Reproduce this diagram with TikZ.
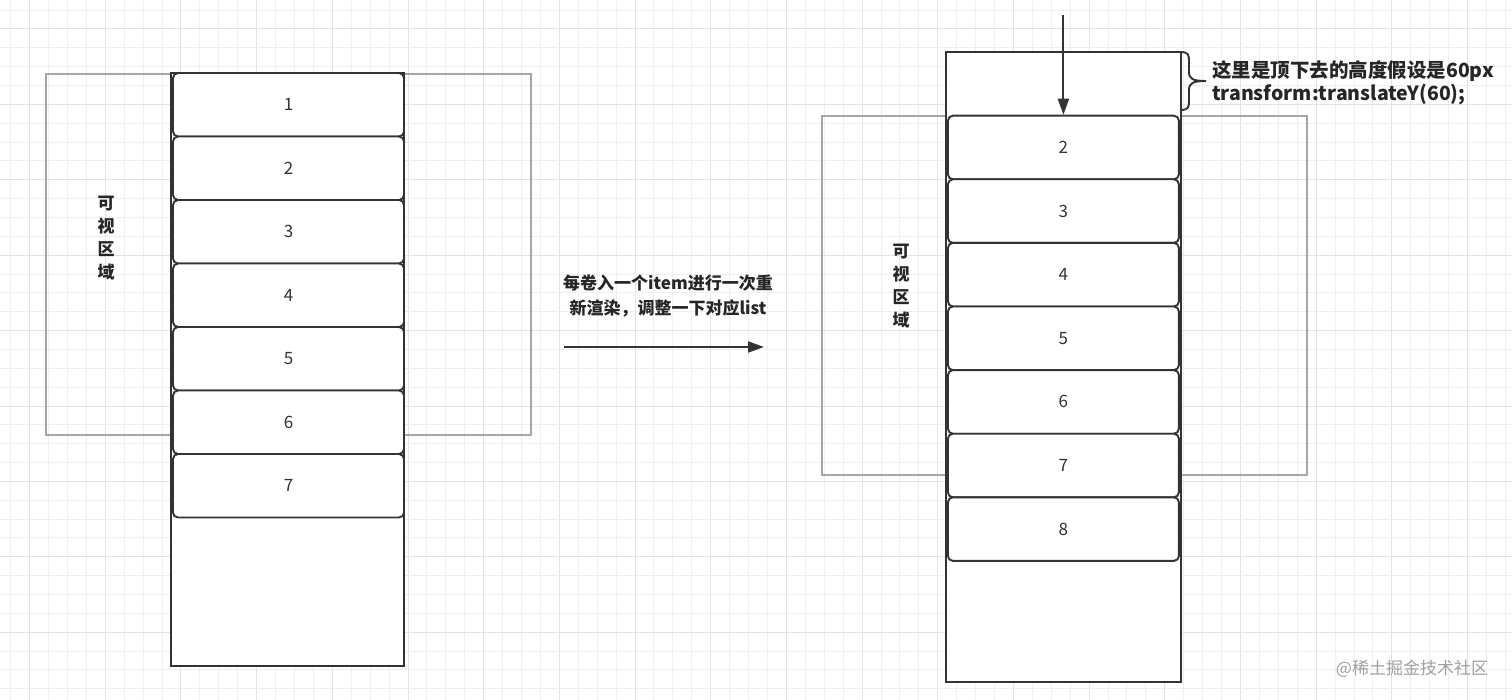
\documentclass[tikz,border=0pt]{standalone}
\usepackage{fontspec}
\setmainfont{Noto Sans CJK SC}
\usetikzlibrary{arrows.meta}
\definecolor{gridfine}{HTML}{EEEEEE}
\definecolor{griddark}{HTML}{E3E3E3}
\definecolor{boxline}{HTML}{333333}
\definecolor{viewline}{HTML}{A6A6A6}
\definecolor{marktext}{HTML}{A0A0A0}
\tikzset{
  finegrid/.style={draw=gridfine, line width=1pt},
  darkgrid/.style={draw=griddark, line width=1pt},
  viewbox/.style={draw=viewline, line width=1.6pt},
  listbox/.style={draw=boxline, line width=1.9pt, fill=white, inner sep=0pt},
  itembox/.style={draw=boxline, line width=1.9pt, fill=white, rounded corners=5pt,
     minimum width=231pt, minimum height=63.5pt, inner sep=0pt,
     font=\fontsize{17}{20}\selectfont, text=boxline},
  ritembox/.style={itembox, minimum height=63.6pt},
  vlabel/.style={font=\bfseries\fontsize{17}{23}\selectfont, align=center, text=black!85, inner sep=0pt},
  note/.style={font=\bfseries\fontsize{17}{25}\selectfont, align=center, text=black!85, inner sep=0pt},
  toptext/.style={font=\bfseries\fontsize{19.5}{24}\selectfont, text=black!85, inner sep=0pt, anchor=west},
  arr/.style={draw=boxline, line width=1.9pt, -{Triangle[length=16pt,width=11pt]}},
}
\begin{document}
\begin{tikzpicture}[x=1pt,y=-1pt]
\useasboundingbox (0,0) rectangle (1512,700);
\fill[white] (0,0) rectangle (1512,700);
% grid
\foreach \i in {0,...,79}{
  \pgfmathsetmacro{\gx}{10.68+18.92*\i}
  \pgfmathtruncatemacro{\m}{mod(\i,4)}
  \ifnum\m=1 \draw[darkgrid] (\gx,0) -- (\gx,700); \else \draw[finegrid] (\gx,0) -- (\gx,700); \fi
}
\foreach \i in {0,...,37}{
  \pgfmathsetmacro{\gy}{10.15+18.85*\i}
  \pgfmathtruncatemacro{\m}{mod(\i,4)}
  \ifnum\m=1 \draw[darkgrid] (0,\gy) -- (1512,\gy); \else \draw[finegrid] (0,\gy) -- (1512,\gy); \fi
}
% visible regions
\node[viewbox, minimum width=485pt, minimum height=361pt, inner sep=0pt] (LV) at (288.5,254.5) {};
\node[viewbox, minimum width=485pt, minimum height=359pt, inner sep=0pt] (RV) at (1064.5,295.5) {};
% containers
\node[listbox, minimum width=233pt, minimum height=593pt] (LC) at (287.5,369.5) {};
\node[listbox, minimum width=235.5pt, minimum height=630pt] (RC) at (1063.5,367.3) {};
% left items
\foreach \n [count=\k from 0] in {1,...,7}{
  \node[itembox] (L\n) at (288.5,{104.75+63.5*\k}) {\n};
}
% right items
\foreach \n [count=\k from 0] in {2,...,8}{
  \node[ritembox] (R\n) at (1063.4,{147.5+63.6*\k}) {\n};
}
% labels
\node[vlabel] (LVL) at (106,238.5) {可\\视\\区\\域};
\node[vlabel] (RVL) at (901,286.5) {可\\视\\区\\域};
% middle arrow
\node[note] (mid) at (668,296) {每卷入一个item进行一次重\\新渲染，调整一下对应list};
\coordinate (as) at (564,347);
\coordinate (ae) at (764,347);
\draw[arr] (as) -- (ae);
% down arrow
\coordinate (ds) at (1063.4,15);
\draw[arr] (ds) -- (R2.north);
% brace
\draw[draw=boxline, line width=1.9pt] (1180,52) .. controls (1189,52) and (1189,55) .. (1189,62) -- (1189,72) .. controls (1189,79) and (1193,81) .. (1206,81) .. controls (1193,81) and (1189,83) .. (1189,90) -- (1189,100) .. controls (1189,107) and (1189,110) .. (1180,110);
\node[toptext] (t1) at (1212,71) {这里是顶下去的高度假设是60px};
\node[toptext] (t2) at (1212,95) {transform:translateY(60);};
% watermark
\node[font=\fontsize{17}{20}\selectfont, text=marktext, inner sep=0pt] (wm) at (1412,669) {@稀土掘金技术社区};
\end{tikzpicture}
\end{document}
